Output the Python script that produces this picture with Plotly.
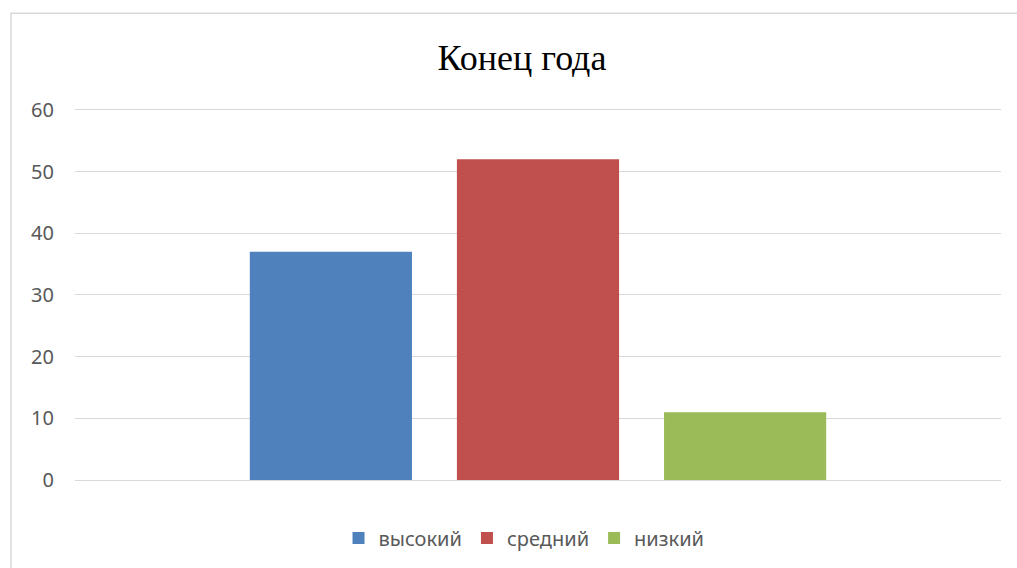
import plotly.graph_objects as go

category = [""]
series_names = ["высокий", "средний", "низкий"]
series_values = [[37], [52], [11]]
series_colors = ["#4F81BD", "#C0504D", "#9BBB59"]
y_ticks = [0, 10, 20, 30, 40, 50, 60]

fig = go.Figure()
for name, vals, col in zip(series_names, series_values, series_colors):
    fig.add_trace(go.Bar(x=category, y=vals, name=name, marker=dict(color=col, line=dict(width=0))))

W, H = 1017, 568
L, R, T, B = 75, 16, 105, 87
pw, ph = W - L - R, H - T - B
y_top = 60 * ph / 371.0

def px_x(p):
    return (p - L) / pw

def px_y(p):
    return (H - B - p) / ph

fig.update_layout(
    width=W, height=H,
    margin=dict(l=L, r=R, t=T, b=B, pad=0),
    paper_bgcolor="white", plot_bgcolor="white",
    barmode="group", bargap=0.329, bargroupgap=0.217,
    title=dict(text="Конец года", font=dict(family="Liberation Serif", size=36, color="#000000"),
               xref="container", x=522 / W, xanchor="center",
               yref="container", y=1 - 57 / H, yanchor="middle"),
    showlegend=True,
    legend=dict(orientation="h", x=px_x(524), xanchor="center", y=px_y(538), yanchor="middle",
                font=dict(family="Noto Sans", size=20, color="#595959"),
                itemsizing="constant", traceorder="normal"),
    xaxis=dict(showticklabels=False, showgrid=False, zeroline=False, showline=False, ticks=""),
    yaxis=dict(range=[0, y_top], tickvals=y_ticks, ticktext=[str(v) for v in y_ticks],
               showgrid=True, gridcolor="#D9D9D9", gridwidth=1.2,
               zeroline=True, zerolinecolor="#D9D9D9", zerolinewidth=1.2,
               showline=False, ticks="", ticklabelstandoff=20,
               tickfont=dict(family="Noto Sans", size=20, color="#595959")),
    shapes=[dict(type="rect", xref="paper", yref="paper",
                 x0=px_x(11), x1=px_x(1030), y0=px_y(580), y1=px_y(13),
                 line=dict(color="#D9D9D9", width=1.5), fillcolor="rgba(0,0,0,0)", layer="below")],
)

fig.write_html("out.html", config={"displayModeBar": False},
               post_script="document.body.style.margin='0';document.body.style.padding='0';")
